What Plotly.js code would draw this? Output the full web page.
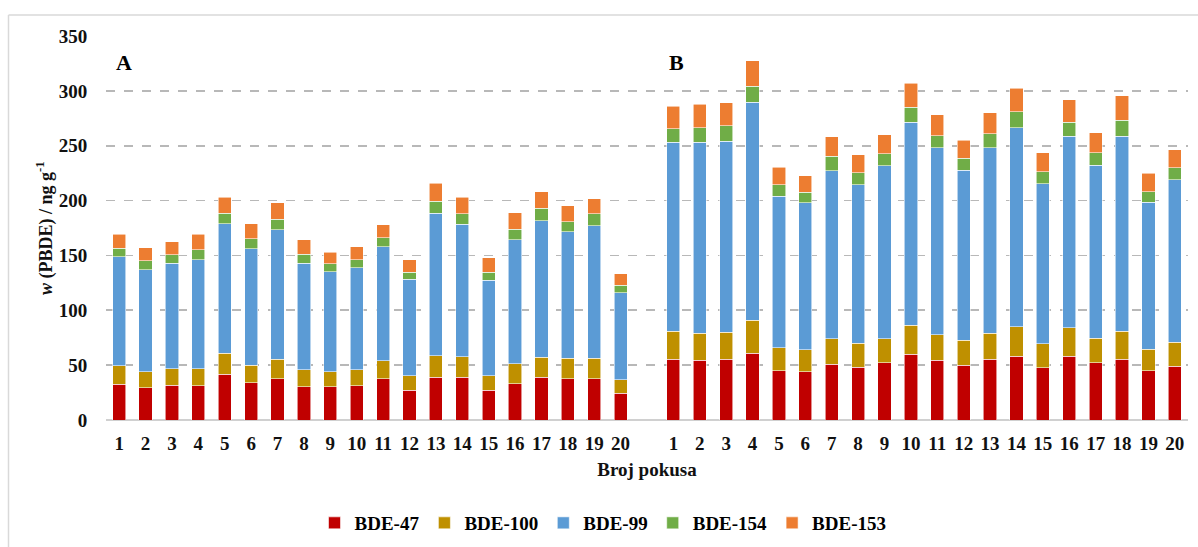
<!DOCTYPE html>
<html>
<head>
<meta charset="utf-8">
<script src="https://cdn.plot.ly/plotly-3.0.1.min.js"></script>
<style>
  html, body { margin: 0; padding: 0; background: #ffffff; }
  #chart { width: 1198px; height: 547px; }
</style>
</head>
<body>
<div id="chart"></div>
<script>
// Tick labels (Broj pokusa) for the two panels
const labelsA = ["1","2","3","4","5","6","7","8","9","10","11","12","13","14","15","16","17","18","19","20"];
const labelsB = ["1","2","3","4","5","6","7","8","9","10","11","12","13","14","15","16","17","18","19","20"];

// Panel A series (ng/g)
const bde47_A  = [32.8, 29.5, 31.9, 31.3, 41.6, 34.0, 37.4, 30.4, 30.4, 31.3, 37.4, 27.3, 38.9, 38.9, 27.3, 33.1, 38.9, 37.4, 37.4, 24.3];
const bde100_A = [16.7, 14.5, 14.6, 15.2, 19.2, 16.1, 17.9, 15.5, 13.6, 14.6, 16.4, 13.1, 19.7, 18.8, 13.1, 18.3, 18.2, 18.8, 18.8, 12.2];
const bde99_A  = [99.4, 93.0, 96.3, 99.7, 117.9, 105.8, 117.9, 96.9, 91.2, 92.7, 104.2, 87.8, 129.8, 120.7, 86.9, 113.0, 124.6, 115.5, 120.9, 79.3];
const bde154_A = [7.6, 8.2, 7.6, 8.8, 9.7, 9.1, 10.0, 8.5, 7.3, 7.6, 7.9, 6.7, 11.2, 9.4, 7.6, 9.4, 11.3, 9.1, 10.7, 7.0];
const bde153_A = [12.7, 11.9, 12.2, 14.2, 14.6, 14.0, 14.6, 12.8, 10.3, 11.8, 11.9, 11.0, 16.4, 15.2, 12.8, 14.9, 15.1, 14.6, 14.0, 10.3];

// Panel B series (ng/g)
const bde47_B  = [55.3, 54.4, 55.3, 60.8, 45.0, 44.1, 51.0, 48.3, 52.0, 59.9, 54.4, 50.1, 55.3, 58.0, 47.7, 58.0, 52.0, 55.3, 45.0, 49.2];
const bde100_B = [25.8, 24.9, 24.9, 30.1, 20.9, 20.0, 23.1, 21.6, 22.1, 26.4, 23.4, 22.5, 24.0, 26.8, 21.6, 25.9, 22.4, 25.8, 19.7, 21.6];
const bde99_B  = [172.0, 173.8, 173.8, 198.7, 138.0, 134.0, 153.2, 144.6, 157.7, 185.3, 170.5, 155.0, 169.0, 181.7, 146.1, 174.7, 158.0, 177.5, 134.0, 148.0];
const bde154_B = [12.5, 13.4, 14.3, 14.6, 10.3, 9.4, 13.1, 11.0, 11.0, 13.4, 10.9, 10.9, 12.7, 14.6, 11.0, 13.0, 11.3, 14.6, 9.4, 11.2];
const bde153_B = [20.3, 21.3, 20.7, 23.4, 16.4, 15.2, 17.9, 16.4, 17.3, 21.9, 19.1, 16.7, 19.2, 21.5, 17.3, 20.4, 18.2, 22.5, 16.8, 16.4];

const seriesNames = ["BDE-47", "BDE-100", "BDE-99", "BDE-154", "BDE-153"];
const seriesColors = ["#C00000", "#BF9000", "#5B9BD5", "#70AD47", "#ED7D31"];

// positions: panel A at 1..20, one empty slot, panel B at 22..41
const xA = labelsA.map((_, i) => i + 1);
const xB = labelsB.map((_, i) => i + 2 + labelsA.length);
const xAll = xA.concat(xB);
const tickText = labelsA.concat(labelsB);

const seriesData = [
  bde47_A.concat(bde47_B),
  bde100_A.concat(bde100_B),
  bde99_A.concat(bde99_B),
  bde154_A.concat(bde154_B),
  bde153_A.concat(bde153_B)
];

const serif = "Liberation Serif, Times New Roman, serif";

const traces = seriesNames.map((name, k) => ({
  type: "bar",
  name: name,
  x: xAll,
  y: seriesData[k],
  marker: { color: seriesColors[k], line: { color: "rgba(255,255,255,0.7)", width: 0.8 } },
  hoverinfo: "skip"
}));

const L = 106, R = 10, T = 36, B = 127;
const W = 1198, H = 547;
const pw = W - L - R, ph = H - T - B;
const px = v => (v - L) / pw;
const py = v => (H - B - v) / ph;

const layout = {
  width: W, height: H,
  margin: { l: L, r: R, t: T, b: B, pad: 0, autoexpand: false },
  paper_bgcolor: "#ffffff",
  plot_bgcolor: "#ffffff",
  barmode: "stack",
  bargap: 0.5,
  showlegend: true,
  legend: {
    orientation: "h",
    x: px(603), xanchor: "center",
    y: py(523), yanchor: "middle",
    traceorder: "normal",
    font: { family: serif, size: 19, color: "#000", weight: "bold" },
    itemwidth: 30
  },
  xaxis: {
    type: "linear",
    automargin: false,
    range: [0.5, xB[xB.length - 1] + 0.5],
    tickmode: "array",
    tickvals: xAll,
    ticktext: tickText,
    ticks: "outside",
    ticklen: 6,
    tickcolor: "rgba(0,0,0,0)",
    tickfont: { family: serif, size: 19, color: "#111", weight: "bold" },
    showgrid: false,
    zeroline: false,
    showline: false,
    fixedrange: true,
    title: { text: "Broj pokusa", font: { family: serif, size: 19, color: "#111", weight: "bold" }, standoff: 9 }
  },
  yaxis: {
    automargin: false,
    range: [0, 350],
    tickmode: "linear",
    tick0: 0,
    dtick: 50,
    ticks: "outside",
    ticklen: 14,
    tickcolor: "rgba(0,0,0,0)",
    tickfont: { family: serif, size: 19, color: "#111", weight: "bold" },
    showgrid: true,
    gridcolor: "#b8b8b8",
    griddash: "dash",
    gridwidth: 1.6,
    zeroline: true,
    zerolinecolor: "#d0d0d0",
    zerolinewidth: 1.5,
    showline: false,
    fixedrange: true
  },
  annotations: [
    { xref: "paper", yref: "paper", x: px(45), y: 0.5, xanchor: "center", yanchor: "middle",
      textangle: -90, showarrow: false,
      text: "<i>w</i> (PBDE) / ng g<sup>-1</sup>",
      font: { family: serif, size: 18, color: "#111", weight: "bold" } },
    { xref: "paper", yref: "paper", x: px(124), y: py(62), xanchor: "center", yanchor: "middle",
      showarrow: false, text: "A", font: { family: serif, size: 22, color: "#000", weight: "bold" } },
    { xref: "paper", yref: "paper", x: px(676), y: py(62), xanchor: "center", yanchor: "middle",
      showarrow: false, text: "B", font: { family: serif, size: 22, color: "#000", weight: "bold" } }
  ],
  shapes: [
    { type: "line", xref: "paper", yref: "paper", x0: px(8.5), x1: px(8.5), y0: py(15), y1: py(560),
      line: { color: "#d9d9d9", width: 1.5 } },
    { type: "line", xref: "paper", yref: "paper", x0: px(8.5), x1: px(1210), y0: py(15), y1: py(15),
      line: { color: "#d9d9d9", width: 1.5 } }
  ],
  hovermode: false
};

Plotly.newPlot("chart", traces, layout, { displayModeBar: false, staticPlot: true });
</script>
</body>
</html>
